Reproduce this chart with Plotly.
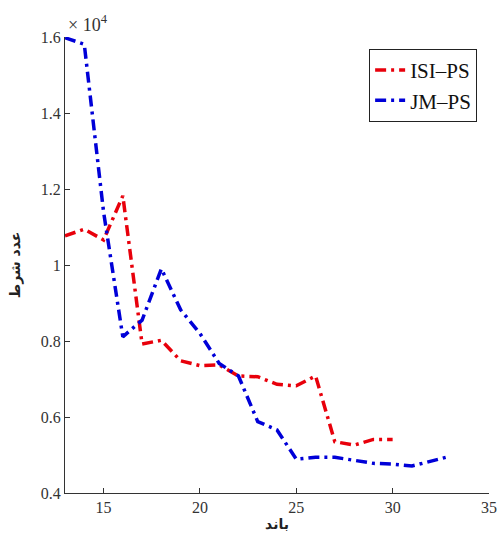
import plotly.graph_objects as go

bands_isi = [13, 14, 15, 16, 17, 18, 19, 20, 21, 22, 23, 24, 25, 26, 27, 28, 29, 30]
cond_isi = [10770, 10940, 10660, 11820, 7920, 8020, 7480, 7350, 7370, 7080, 7060, 6860, 6820, 7080, 5350, 5260, 5410, 5410]

bands_jm = [13, 14, 15, 16, 17, 18, 19, 20, 21, 22, 23, 24, 25, 26, 27, 28, 29, 30, 31, 32, 33]
cond_jm = [15980, 15810, 11400, 8110, 8550, 9900, 8820, 8200, 7410, 7080, 5880, 5660, 4890, 4940, 4940, 4870, 4780, 4760, 4710, 4840, 4970]

y_ticks = [4000, 6000, 8000, 10000, 12000, 14000, 16000]
y_ticktext = ["0.4", "0.6", "0.8", "1", "1.2", "1.4", "1.6"]
x_ticks = [15, 20, 25, 30, 35]

dash = "11px,5px,3px,5px"
fig = go.Figure()
fig.add_trace(go.Scatter(x=bands_isi, y=cond_isi, mode="lines", name="ISI–PS",
                         line=dict(color="#e8000b", width=3.5, dash=dash)))
fig.add_trace(go.Scatter(x=bands_jm, y=cond_jm, mode="lines", name="JM–PS",
                         line=dict(color="#0000d8", width=3.5, dash=dash)))

tickfont = dict(family="Liberation Serif", size=16, color="#333333")
fig.update_layout(
    width=500, height=537,
    margin=dict(l=65, r=11, t=37, b=44),
    paper_bgcolor="white", plot_bgcolor="white",
    showlegend=True,
    legend=dict(x=0.972, y=0.974, xanchor="right", yanchor="top",
                bordercolor="#222222", borderwidth=1, bgcolor="white",
                font=dict(family="Liberation Serif", size=21, color="#111111"),
                itemwidth=30, tracegroupgap=0),
    xaxis=dict(range=[13, 35], tickvals=x_ticks, ticks="inside", ticklen=5,
               showline=True, linecolor="#333333", linewidth=1, showgrid=False,
               zeroline=False, tickfont=tickfont, tickcolor="#333333",
               automargin=False, ticklabeloverflow="allow",
               title=dict(text="<b>باند</b>", font=dict(family="DejaVu Sans", size=14, color="#222222"), standoff=2)),
    yaxis=dict(range=[4000, 16000], tickvals=y_ticks, ticktext=y_ticktext, ticks="inside", ticklen=5,
               showline=True, linecolor="#333333", linewidth=1, showgrid=False,
               zeroline=False, tickfont=tickfont, tickcolor="#333333",
               automargin=False, ticklabeloverflow="allow",
               title=dict(text="<b>عدد شرط</b>", font=dict(family="DejaVu Sans", size=14, color="#222222"), standoff=16)),
    annotations=[dict(text="× 10<sup>4</sup>", xref="paper", yref="paper", x=0.0, y=1.0,
                      xanchor="left", yanchor="bottom", showarrow=False, yshift=0, xshift=1,
                      font=dict(family="Liberation Serif", size=18, color="#333333"))],
)
fig.write_html("out.html", config={"displayModeBar": False},
               post_script="document.documentElement.style.overflow='hidden';document.body.style.overflow='hidden';document.body.style.margin='0px';")
